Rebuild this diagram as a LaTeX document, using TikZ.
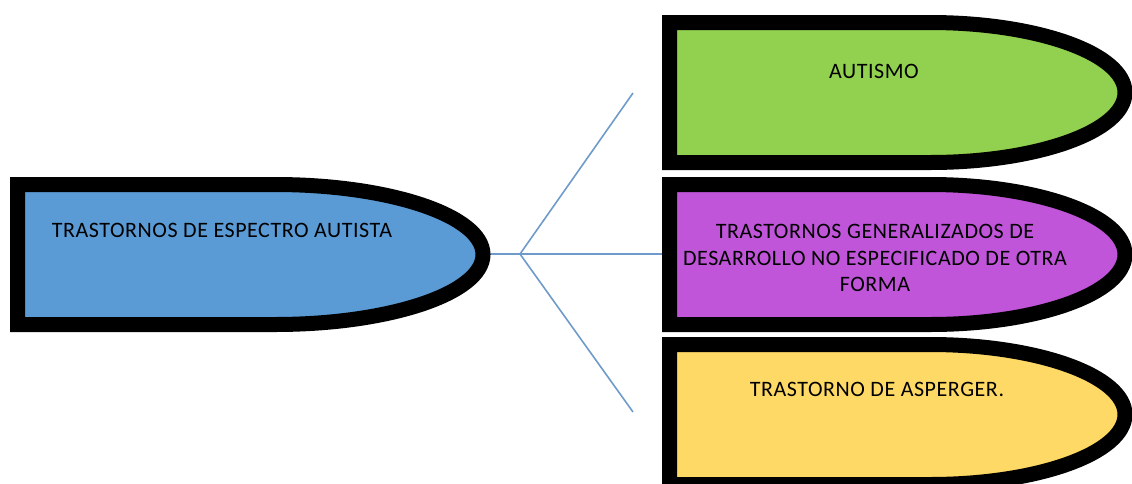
\documentclass[tikz,border=0pt]{standalone}
\usepackage{fontspec}
\setmainfont[LetterSpace=2.5]{Carlito}
\definecolor{cblue}{HTML}{5B9BD5}
\definecolor{cgreen}{HTML}{92D050}
\definecolor{cpurple}{HTML}{C055DA}
\definecolor{cyellow}{HTML}{FFD966}
\definecolor{cline}{HTML}{6F9BCB}
\tikzset{
  bullet/.style={draw=black, line width=11.25pt, line join=miter},
  conn/.style={draw=cline, line width=1.2pt},
  lbl/.style={font=\fontsize{16.5}{20}\selectfont, text=black, align=center, inner sep=0pt}
}
% #1 fill, #2 left, #3 top, #4 bottom, #5 straight end, #6 tip
\newcommand{\bulletshape}[6]{%
  \pgfmathsetmacro{\mymid}{(#3+#4)/2}%
  \pgfmathsetmacro{\myk}{0.5523*(#6-#5)}%
  \pgfmathsetmacro{\myh}{0.5523*(#4-#3)/2}%
  \path[bullet, fill=#1] (#2,#3) -- (#5,#3)
    .. controls ({#5+\myk},#3) and (#6,{\mymid-\myh}) .. (#6,\mymid)
    .. controls (#6,{\mymid+\myh}) and ({#5+\myk},#4) .. (#5,#4)
    -- (#2,#4) -- cycle;}
\begin{document}
\begin{tikzpicture}[x=0.75pt, y=-0.75pt]
\useasboundingbox (0,0) rectangle (1132,483);
\clip (0,0) rectangle (1132,483);
% connectors
\coordinate (tipL) at (483,254);
\coordinate (junc) at (520,254);
\coordinate (endU) at (633,93);
\coordinate (endD) at (633,412);
\coordinate (midL) at (663,254);
\draw[conn] (tipL) -- (midL);
\draw[conn] (junc) -- (endU);
\draw[conn] (junc) -- (endD);
% shapes
\bulletshape{cblue}{17.5}{184.5}{324.5}{275}{483}
\bulletshape{cgreen}{669.5}{22.5}{162.5}{930}{1125}
\bulletshape{cpurple}{669.5}{184.5}{324.5}{930}{1125}
\bulletshape{cyellow}{669.5}{344.5}{484.5}{930}{1125}
% labels
\node[lbl] (main) at (222,230) {TRASTORNOS DE ESPECTRO AUTISTA};
\node[lbl] (aut) at (874,71) {AUTISMO};
\node[lbl] (tgd) at (875,258) {TRASTORNOS GENERALIZADOS DE\\DESARROLLO NO ESPECIFICADO DE OTRA\\FORMA};
\node[lbl] (asp) at (877,389) {TRASTORNO DE ASPERGER.};
\end{tikzpicture}
\end{document}
